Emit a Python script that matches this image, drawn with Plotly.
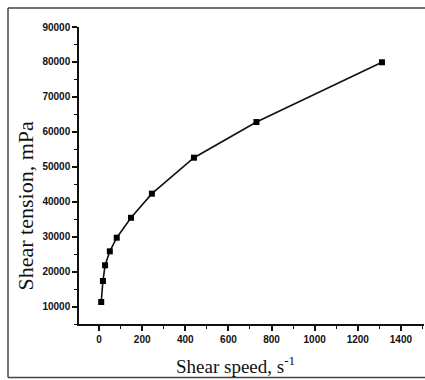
import plotly.graph_objects as go

shear_speed = [10, 18, 28, 50, 82, 148, 245, 440, 730, 1312]
shear_tension = [11300, 17300, 21800, 25800, 29700, 35400, 42300, 52600, 62800, 79900]

x_ticks = [0, 200, 400, 600, 800, 1000, 1200, 1400]
y_ticks = [10000, 20000, 30000, 40000, 50000, 60000, 70000, 80000, 90000]

x_title = "Shear speed, s<sup>-1</sup>"
y_title = "Shear tension, mPa"

W, H = 425, 380
L, R, T, B = 79, 1, 27, 56
pw, ph = W - L - R, H - T - B

def px(x):
    return (x - L) / pw

def py(y):
    return (H - B - y) / ph

fig = go.Figure()
fig.add_trace(go.Scatter(
    x=shear_speed, y=shear_tension, mode="lines+markers",
    line=dict(color="#111111", width=1.6),
    marker=dict(symbol="square", size=6, color="#000000"),
    showlegend=False, hoverinfo="skip",
))

tickfont = dict(family="Liberation Sans, Arial, sans-serif", size=10, color="#111111", weight="bold")

fig.update_xaxes(
    range=[-93, 1507], tickvals=x_ticks, ticktext=[str(v) for v in x_ticks],
    showline=True, linecolor="#111111", linewidth=1.5, showgrid=False, zeroline=False,
    ticks="outside", ticklen=5, tickwidth=1.5, tickcolor="#111111",
    minor=dict(tickvals=[100, 300, 500, 700, 900, 1100, 1300, 1500], ticks="outside",
               ticklen=3, tickwidth=1.2, tickcolor="#111111", showgrid=False),
    tickfont=tickfont,
)
fig.update_yaxes(
    range=[5000, 90000], tickvals=y_ticks, ticktext=[str(v) for v in y_ticks],
    showline=True, linecolor="#111111", linewidth=1.5, showgrid=False, zeroline=False,
    ticks="outside", ticklen=5, tickwidth=1.5, tickcolor="#111111",
    minor=dict(tickvals=[5000, 15000, 25000, 35000, 45000, 55000, 65000, 75000, 85000],
               ticks="outside", ticklen=3, tickwidth=1.2, tickcolor="#111111", showgrid=False),
    tickfont=tickfont,
)

fig.add_annotation(text=x_title, xref="paper", yref="paper", x=px(235), y=py(365),
                   xanchor="center", yanchor="middle", showarrow=False,
                   font=dict(family="Liberation Serif, Times New Roman, serif", size=19, color="#111111"))
fig.add_annotation(text=y_title, xref="paper", yref="paper", x=px(24.5), y=py(206),
                   xanchor="center", yanchor="middle", showarrow=False, textangle=-90,
                   font=dict(family="Liberation Serif, Times New Roman, serif", size=22, color="#111111"))

frame = dict(color="#444444", width=1.5)
fig.add_shape(type="line", xref="paper", yref="paper", x0=px(8), x1=px(425), y0=py(8), y1=py(8), line=frame)
fig.add_shape(type="line", xref="paper", yref="paper", x0=px(8), x1=px(425), y0=py(377.5), y1=py(377.5), line=frame)
fig.add_shape(type="line", xref="paper", yref="paper", x0=px(8), x1=px(8), y0=py(8), y1=py(377.5), line=frame)

fig.update_layout(
    width=W, height=H, margin=dict(l=L, r=R, t=T, b=B),
    paper_bgcolor="white", plot_bgcolor="white",
)

fig.write_html("out.html", config={"displayModeBar": False},
               post_script="document.body.style.margin='0';document.body.style.overflow='hidden';")
